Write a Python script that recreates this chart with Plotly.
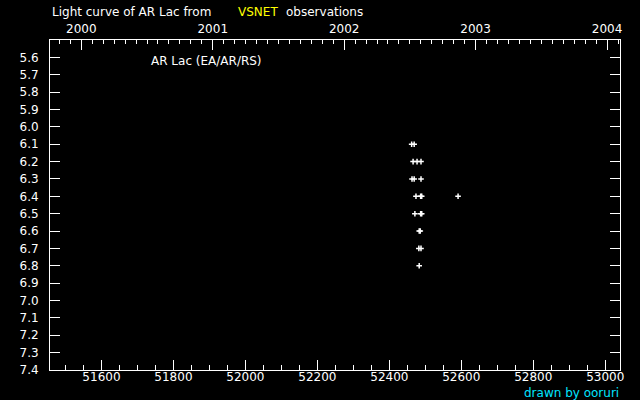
import plotly.graph_objects as go

# Observations (MJD, visual magnitude)
mjd = [52462, 52469,
       52466, 52477, 52488,
       52463, 52469, 52488,
       52474, 52487, 52490, 52591,
       52471, 52487, 52490,
       52483, 52486,
       52482, 52488,
       52483]
mag = [6.1, 6.1,
       6.2, 6.2, 6.2,
       6.3, 6.3, 6.3,
       6.4, 6.4, 6.4, 6.4,
       6.5, 6.5, 6.5,
       6.6, 6.6,
       6.7, 6.7,
       6.8]

mjd_ticks = [51600, 51800, 52000, 52200, 52400, 52600, 52800, 53000]
year_ticks = [2000, 2001, 2002, 2003, 2004]
mag_ticks = [5.6, 5.7, 5.8, 5.9, 6.0, 6.1, 6.2, 6.3, 6.4, 6.5, 6.6, 6.7, 6.8,
             6.9, 7.0, 7.1, 7.2, 7.3, 7.4]

MJD_MIN, MJD_MAX = 51457, 53041
MJD_Y2000 = 51544.0
def to_year(m):
    return 2000 + (m - MJD_Y2000) / 365.25

FONT = "DejaVu Sans"
W = "white"
FS = 12

fig = go.Figure()
fig.add_trace(go.Scatter(
    x=mjd, y=mag, mode="markers",
    marker=dict(symbol="cross-thin", size=4, line=dict(color=W, width=1.5), color=W),
    showlegend=False, hoverinfo="skip"))
# dummy trace for top axis
fig.add_trace(go.Scatter(x=[to_year(MJD_MIN)], y=[7.4], xaxis="x2", mode="markers",
                         marker=dict(opacity=0), showlegend=False, hoverinfo="skip"))

fig.update_layout(
    width=640, height=400,
    paper_bgcolor="black", plot_bgcolor="black",
    margin=dict(l=50, r=20, t=40, b=30),
    font=dict(family=FONT, size=FS, color=W),
    xaxis=dict(range=[MJD_MIN, MJD_MAX], tickvals=mjd_ticks,
               ticktext=[str(v) for v in mjd_ticks],
               ticks="inside", ticklen=10, tickwidth=1, tickcolor=W,
               minor=dict(dtick=50, tick0=51600, ticks="inside", ticklen=5, tickcolor=W),
               showline=True, linecolor=W, linewidth=1, showgrid=False, zeroline=False,
               tickfont=dict(size=FS, color=W), ticklabelstandoff=-4),
    xaxis2=dict(range=[to_year(MJD_MIN), to_year(MJD_MAX)], overlaying="x", side="top",
                tickvals=year_ticks, ticktext=[str(v) for v in year_ticks],
                ticks="inside", ticklen=10, tickwidth=1, tickcolor=W,
                minor=dict(dtick=1/12, tick0=2000, ticks="inside", ticklen=4, tickcolor=W),
                showline=True, linecolor=W, linewidth=1, showgrid=False, zeroline=False,
                tickfont=dict(size=FS, color=W), ticklabelstandoff=1),
    yaxis=dict(range=[7.4, 5.5], tickvals=mag_ticks,
               ticktext=["%.1f" % v for v in mag_ticks],
               ticks="inside", ticklen=10, tickwidth=1, tickcolor=W,
               showline=True, mirror="ticks", linecolor=W, linewidth=1,
               showgrid=False, zeroline=False,
               tickfont=dict(size=FS, color=W), ticklabelstandoff=8),
)

def px_x(px):
    return (px - 50) / 570.0
def px_y(py):
    return (370 - py) / 330.0

fig.add_annotation(x=px_x(50), y=px_y(12), xref="paper", yref="paper",
                   text="Light curve of AR Lac from", showarrow=False,
                   xanchor="left", yanchor="middle", font=dict(size=FS, color=W))
fig.add_annotation(x=px_x(236), y=px_y(12), xref="paper", yref="paper",
                   text="VSNET", showarrow=False,
                   xanchor="left", yanchor="middle", font=dict(size=FS, color="yellow"))
fig.add_annotation(x=px_x(284), y=px_y(12), xref="paper", yref="paper",
                   text="observations", showarrow=False,
                   xanchor="left", yanchor="middle", font=dict(size=FS, color=W))
fig.add_annotation(x=px_x(149), y=px_y(61), xref="paper", yref="paper",
                   text="AR Lac (EA/AR/RS)", showarrow=False,
                   xanchor="left", yanchor="middle", font=dict(size=FS, color=W))
fig.add_annotation(x=px_x(621), y=px_y(393), xref="paper", yref="paper",
                   text="drawn by ooruri", showarrow=False,
                   xanchor="right", yanchor="middle", font=dict(size=FS, color="#00e5ff"))

fig.write_html("out.html", config={"displayModeBar": False},
               post_script="document.body.style.margin='0';document.body.style.background='black';")
